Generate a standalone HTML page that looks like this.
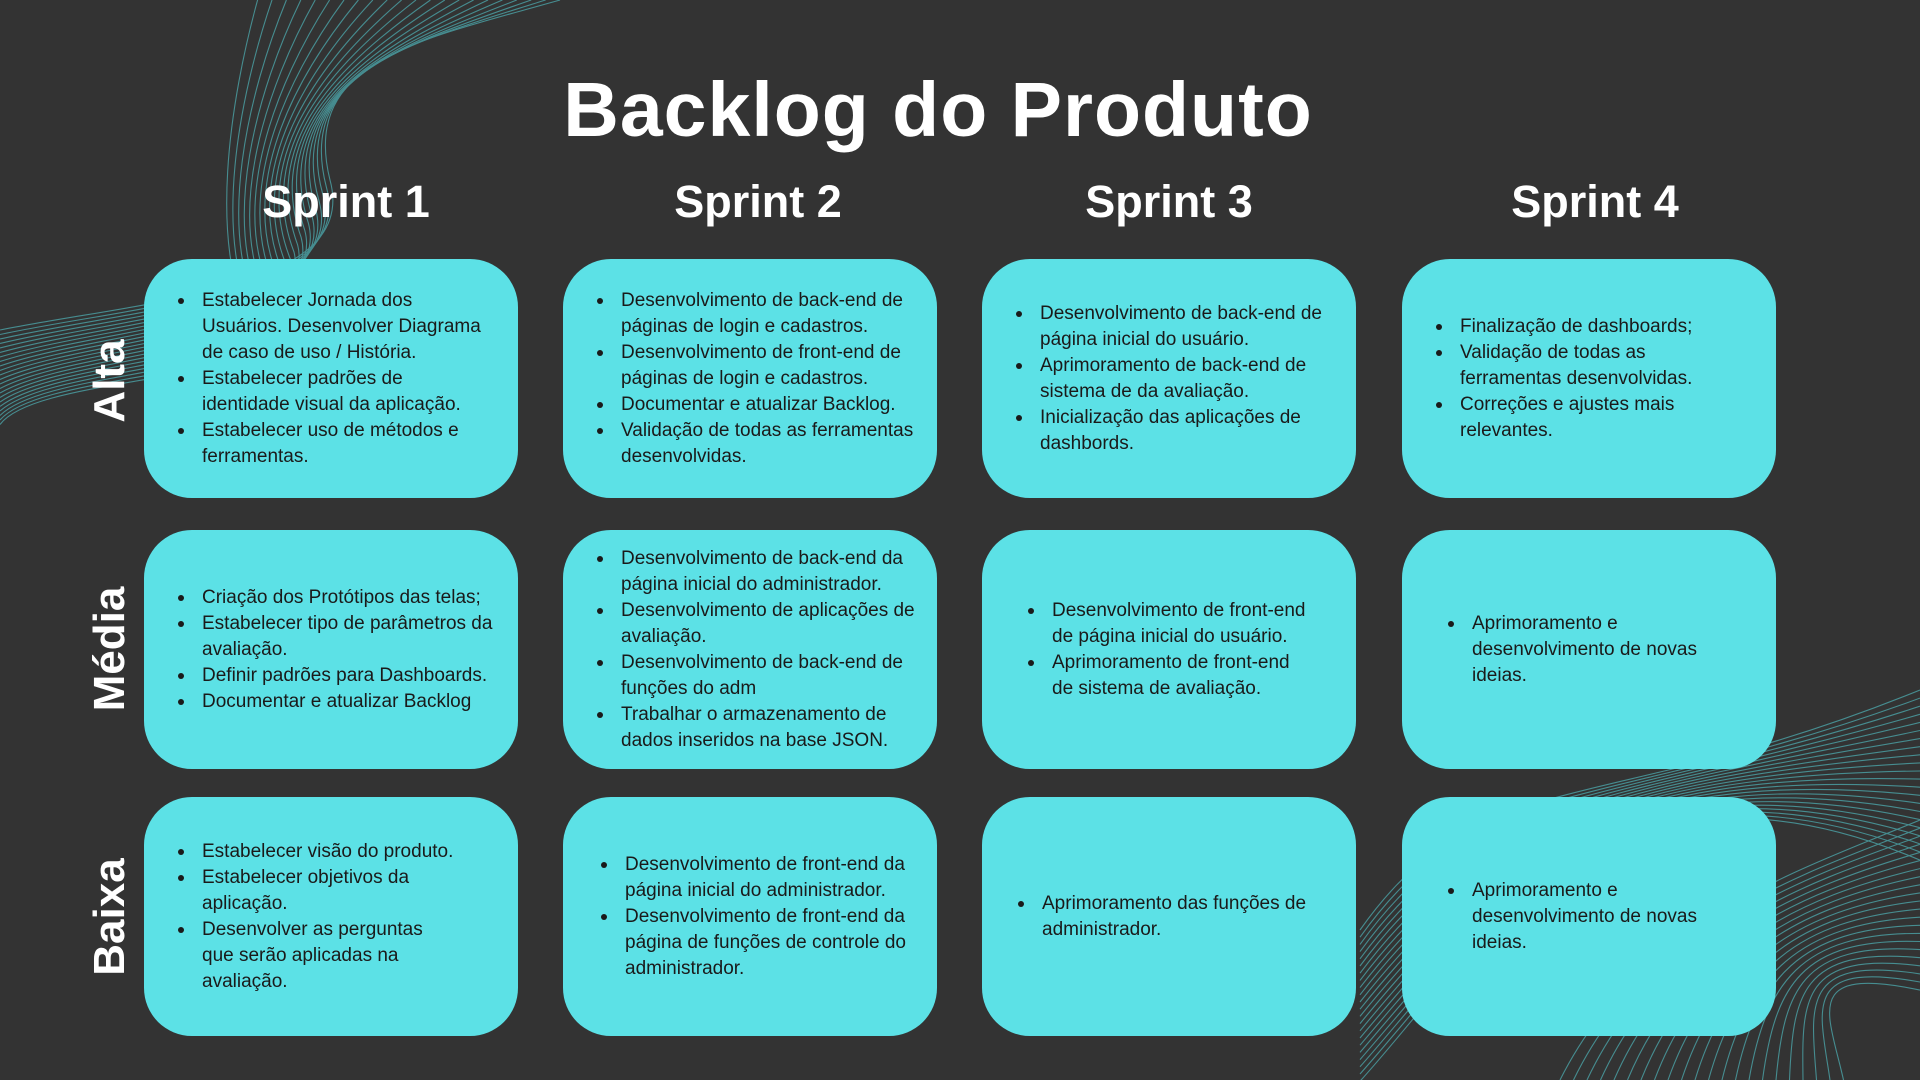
<!DOCTYPE html>
<html><head><meta charset="utf-8">
<style>
*{margin:0;padding:0;box-sizing:border-box}
body{width:1920px;height:1080px;background:#333333;position:relative;overflow:hidden;font-family:"Liberation Sans",sans-serif;color:#fff}
svg.bg{position:absolute;left:0;top:0}
.title{position:absolute;left:0;width:1876px;top:66px;text-align:center;font-size:77px;font-weight:bold;letter-spacing:1px}
.sp{position:absolute;top:176px;width:374px;text-align:center;font-size:45px;font-weight:bold}
.rl{position:absolute;width:240px;text-align:center;font-size:44px;font-weight:bold;transform:rotate(-90deg);left:-10px}
.box{position:absolute;width:374px;height:239px;background:#5ce1e6;border-radius:48px;color:#1a1a1a;display:flex;align-items:center;padding-left:28px}
.box ul{list-style:none;font-size:19px;line-height:26px;white-space:nowrap}
.box li{position:relative;padding-left:30px}
.box li:before{content:"";position:absolute;left:6px;top:10px;width:6px;height:6px;border-radius:50%;background:#1a1a1a}
</style></head><body>
<svg class="bg" id="bg" width="1920" height="1080">
<g id="g1" fill="none" stroke="#4fb3b8" stroke-width="1.1" opacity="0.7"></g>
</svg>
<script>
var g=document.getElementById('g1'),s='';
for(var i=0;i<22;i++){var o=i*9;
s+='<path d="M'+(560-o*1.6)+',0 C'+(420-o)+','+(40+o*0.3)+' '+(300-o*0.5)+','+(60+o)+' '+(330-o*0.4)+','+(180+o*0.8)+' C'+(360-o*0.5)+','+(290+o*0.5)+' '+(150-o*0.6)+','+(300+o*0.4)+' 0,'+(330+o*0.5)+'"/>';
s+='<path d="M1360,'+(930+o*0.8)+' C1480,'+(760+o)+' 1600,'+(820-o*0.5)+' 1920,'+(690+o*0.9)+'"/>';
s+='<path d="M'+(1560+o*1.5)+',1080 C'+(1640+o)+','+(920+o*0.5)+' 1800,'+(870+o*0.5)+' 1920,'+(820+o*0.9)+'"/>';}
g.innerHTML=s;
</script>

<div class="title">Backlog do Produto</div>
<div class="sp" style="left:159px">Sprint 1</div>
<div class="sp" style="left:571px">Sprint 2</div>
<div class="sp" style="left:982px">Sprint 3</div>
<div class="sp" style="left:1408px">Sprint 4</div>

<div class="rl" style="top:356px">Alta</div>
<div class="rl" style="top:624px">Média</div>
<div class="rl" style="top:892px">Baixa</div>

<div class="box" style="left:144px;top:259px"><ul>
<li>Estabelecer Jornada dos<br>Usuários. Desenvolver Diagrama<br>de caso de uso / História.</li>
<li>Estabelecer padrões de<br>identidade visual da aplicação.</li>
<li>Estabelecer uso de métodos e<br>ferramentas.</li></ul></div>
<div class="box" style="left:563px;top:259px"><ul>
<li>Desenvolvimento de back-end de<br>páginas de login e cadastros.</li>
<li>Desenvolvimento de front-end de<br>páginas de login e cadastros.</li>
<li>Documentar e atualizar Backlog.</li>
<li>Validação de todas as ferramentas<br>desenvolvidas.</li></ul></div>
<div class="box" style="left:982px;top:259px"><ul>
<li>Desenvolvimento de back-end de<br>página inicial do usuário.</li>
<li>Aprimoramento de back-end de<br>sistema de da avaliação.</li>
<li>Inicialização das aplicações de<br>dashbords.</li></ul></div>
<div class="box" style="left:1402px;top:259px"><ul>
<li>Finalização de dashboards;</li>
<li>Validação de todas as<br>ferramentas desenvolvidas.</li>
<li>Correções e ajustes mais<br>relevantes.</li></ul></div>

<div class="box" style="left:144px;top:530px"><ul>
<li>Criação dos Protótipos das telas;</li>
<li>Estabelecer tipo de parâmetros da<br>avaliação.</li>
<li>Definir padrões para Dashboards.</li>
<li>Documentar e atualizar Backlog</li></ul></div>
<div class="box" style="left:563px;top:530px"><ul>
<li>Desenvolvimento de back-end da<br>página inicial do administrador.</li>
<li>Desenvolvimento de aplicações de<br>avaliação.</li>
<li>Desenvolvimento de back-end de<br>funções do adm</li>
<li>Trabalhar o armazenamento de<br>dados inseridos na base JSON.</li></ul></div>
<div class="box" style="left:982px;top:530px;padding-left:40px"><ul>
<li>Desenvolvimento de front-end<br>de página inicial do usuário.</li>
<li>Aprimoramento de front-end<br>de sistema de avaliação.</li></ul></div>
<div class="box" style="left:1402px;top:530px;padding-left:40px"><ul>
<li>Aprimoramento e<br>desenvolvimento de novas<br>ideias.</li></ul></div>

<div class="box" style="left:144px;top:797px"><ul>
<li>Estabelecer visão do produto.</li>
<li>Estabelecer objetivos da<br>aplicação.</li>
<li>Desenvolver as perguntas<br>que serão aplicadas na<br>avaliação.</li></ul></div>
<div class="box" style="left:563px;top:797px;padding-left:32px"><ul>
<li>Desenvolvimento de front-end da<br>página inicial do administrador.</li>
<li>Desenvolvimento de front-end da<br>página de funções de controle do<br>administrador.</li></ul></div>
<div class="box" style="left:982px;top:797px;padding-left:30px"><ul>
<li>Aprimoramento das funções de<br>administrador.</li></ul></div>
<div class="box" style="left:1402px;top:797px;padding-left:40px"><ul>
<li>Aprimoramento e<br>desenvolvimento de novas<br>ideias.</li></ul></div>
</body></html>
